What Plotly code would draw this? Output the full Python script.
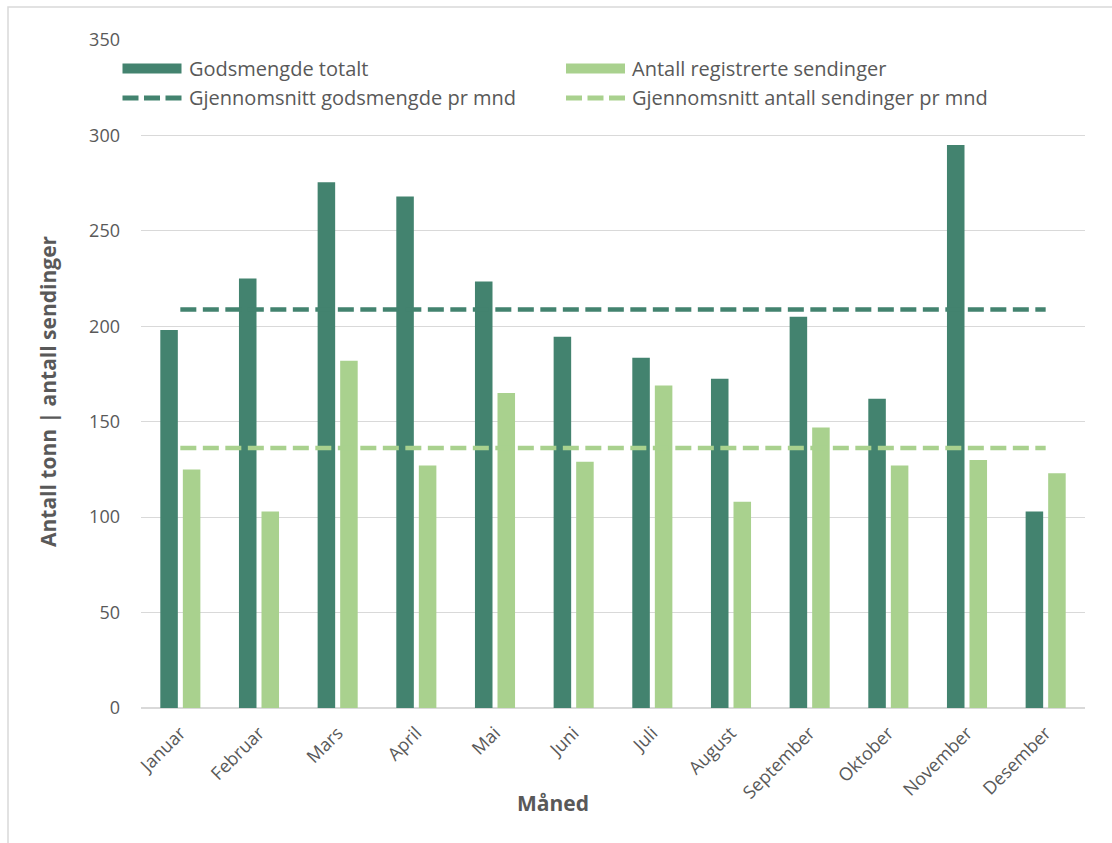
import plotly.graph_objects as go

# Månedlig statistikk
maaneder = ["Januar", "Februar", "Mars", "April", "Mai", "Juni", "Juli",
            "August", "September", "Oktober", "November", "Desember"]
godsmengde = [198, 225, 275.5, 268, 223.5, 194.5, 183.5, 172.5, 205, 162, 295, 103]
sendinger = [125, 103, 182, 127, 165, 129, 169, 108, 147, 127, 130, 123]
snitt_godsmengde = 208.8
snitt_sendinger = 136.2

y_ticks = [0, 50, 100, 150, 200, 250, 300, 350]

MORK = "#43836F"
LYS = "#A9D18E"
GRA_TEKST = "#595959"
GRID = "#D9D9D9"
FONT = "Open Sans"

W, H = 1112, 843
ML, MR, MT, MB = 141, 27, 40, 135
PW, PH = W - ML - MR, H - MT - MB


def px_x(p):
    return (p - ML) / PW


def px_y(p):
    return (H - MB - p) / PH


fig = go.Figure()
fig.add_trace(go.Bar(x=maaneder, y=godsmengde, name="Godsmengde totalt",
                     marker=dict(color=MORK, line=dict(width=0)), showlegend=False))
fig.add_trace(go.Bar(x=maaneder, y=sendinger, name="Antall registrerte sendinger",
                     marker=dict(color=LYS, line=dict(width=0)), showlegend=False))
fig.add_trace(go.Scatter(x=maaneder, y=[snitt_godsmengde] * len(maaneder), mode="lines",
                         name="Gjennomsnitt godsmengde pr mnd",
                         line=dict(color=MORK, width=4.5, dash="16px,6.5px"), showlegend=False))
fig.add_trace(go.Scatter(x=maaneder, y=[snitt_sendinger] * len(maaneder), mode="lines",
                         name="Gjennomsnitt antall sendinger pr mnd",
                         line=dict(color=LYS, width=4.5, dash="16px,6.5px"), showlegend=False))

# Egendefinert forklaring (to kolonner)
shapes = []
annotations = []
legend_items = [
    ("bar", MORK, "Godsmengde totalt", 122.5, 68.5),
    ("bar", LYS, "Antall registrerte sendinger", 566, 68.5),
    ("line", MORK, "Gjennomsnitt godsmengde pr mnd", 122.5, 98),
    ("line", LYS, "Gjennomsnitt antall sendinger pr mnd", 566, 98),
]
for kind, col, label, sx, sy in legend_items:
    if kind == "bar":
        shapes.append(dict(type="rect", xref="paper", yref="paper",
                           x0=px_x(sx), x1=px_x(sx + 59), y0=px_y(sy + 5), y1=px_y(sy - 5),
                           fillcolor=col, line=dict(width=0), layer="above"))
    else:
        shapes.append(dict(type="line", xref="paper", yref="paper",
                           x0=px_x(sx), x1=px_x(sx + 59), y0=px_y(sy), y1=px_y(sy),
                           line=dict(color=col, width=5, dash="16px,5.5px"), layer="above"))
    annotations.append(dict(xref="paper", yref="paper", x=px_x(sx + 64), y=px_y(sy),
                            xanchor="left", yanchor="middle", showarrow=False, text=label,
                            font=dict(family=FONT, size=20, color=GRA_TEKST)))

# Aksetitler
annotations.append(dict(xref="paper", yref="paper", x=px_x(48), y=px_y(391),
                        xanchor="center", yanchor="middle", textangle=-90, showarrow=False,
                        text="<b>Antall tonn | antall sendinger</b>",
                        font=dict(family=FONT, size=21, color=GRA_TEKST)))
annotations.append(dict(xref="paper", yref="paper", x=px_x(553), y=px_y(803),
                        xanchor="center", yanchor="middle", showarrow=False,
                        text="<b>Måned</b>",
                        font=dict(family=FONT, size=21, color=GRA_TEKST)))

# Ramme rundt diagrammet
shapes.append(dict(type="rect", xref="paper", yref="paper",
                   x0=px_x(8), x1=px_x(W + 20), y0=px_y(H + 20), y1=px_y(7),
                   line=dict(color=GRID, width=1.5), fillcolor="rgba(0,0,0,0)", layer="below"))

fig.update_layout(
    width=W, height=H,
    margin=dict(l=ML, r=MR, t=MT, b=MB, pad=0),
    paper_bgcolor="white", plot_bgcolor="white",
    barmode="group", bargap=0.427, bargroupgap=0.222,
    font=dict(family=FONT, color=GRA_TEKST),
    shapes=shapes, annotations=annotations,
    showlegend=False,
)
fig.update_xaxes(
    type="category", tickangle=-45, showgrid=False, showline=False, ticks="",
    tickfont=dict(family=FONT, size=18, color=GRA_TEKST), ticklabelstandoff=10,
)
fig.update_yaxes(
    range=[0, 350], tickvals=y_ticks, showgrid=True, gridcolor=GRID, gridwidth=1.3,
    zeroline=True, zerolinecolor=GRID, zerolinewidth=1.5, showline=False, ticks="",
    tickfont=dict(family=FONT, size=18, color=GRA_TEKST), ticklabelstandoff=20,
)

fig.write_html("out.html")
